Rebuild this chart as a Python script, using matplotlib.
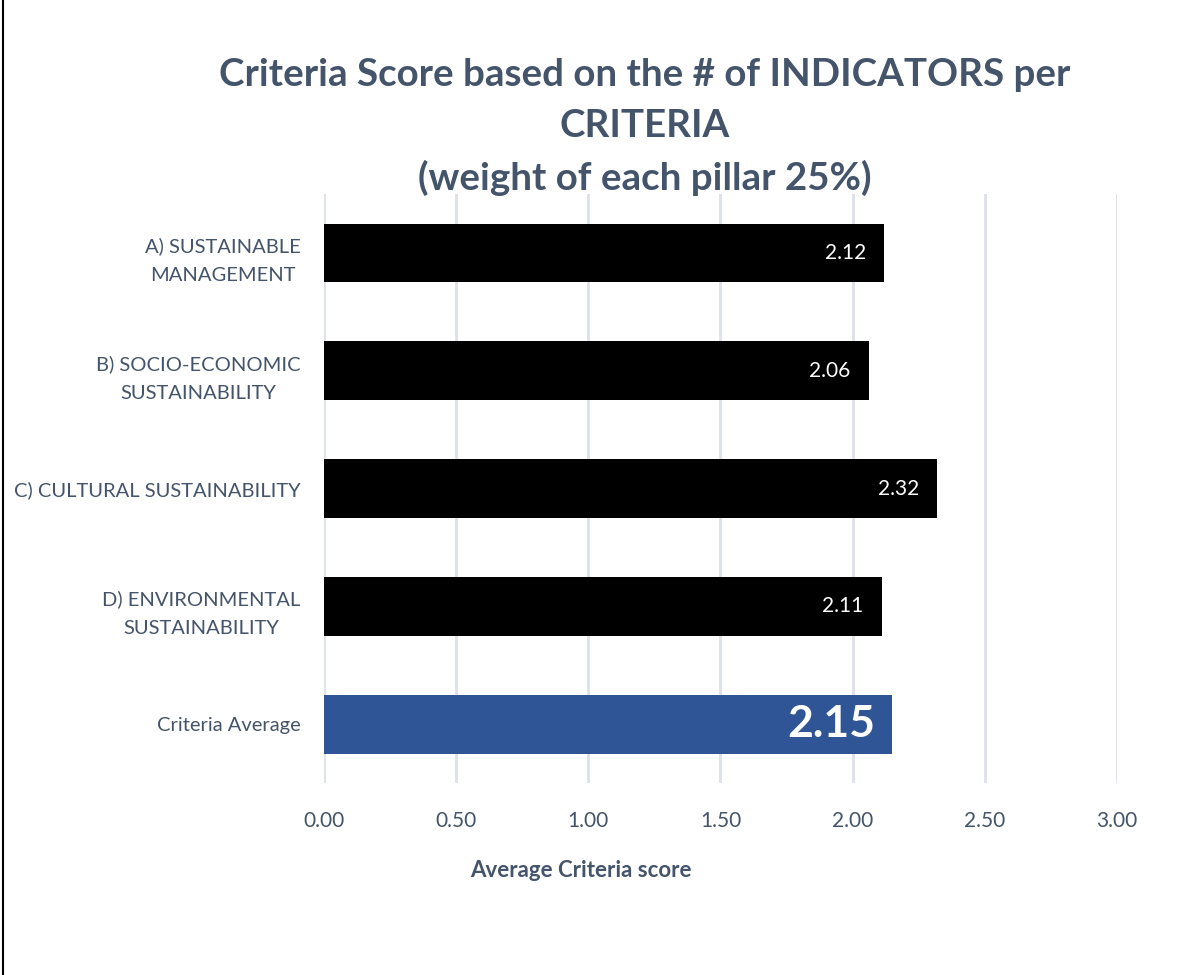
import matplotlib.pyplot as plt
from matplotlib.lines import Line2D

# Data
categories = ['A) SUSTAINABLE\nMANAGEMENT', 'B) SOCIO-ECONOMIC\nSUSTAINABILITY',
              'C) CULTURAL SUSTAINABILITY', 'D) ENVIRONMENTAL\nSUSTAINABILITY',
              'Criteria Average']
scores = [2.12, 2.06, 2.32, 2.11, 2.15]
bar_colors = ['#000000', '#000000', '#000000', '#000000', '#2F5597']
xticks = [0.0, 0.5, 1.0, 1.5, 2.0, 2.5, 3.0]

text_color = '#44546A'
plt.rcParams['font.family'] = ['Lato', 'DejaVu Sans']

fig = plt.figure(figsize=(12.03, 9.75), dpi=100)
ax = fig.add_axes([0.2693, 0.1969, 0.6592, 0.604])

ypos = list(range(len(categories)))
ax.barh(ypos, scores, height=0.5, color=bar_colors, zorder=3)
ax.set_ylim(len(categories) - 0.5, -0.5)
ax.set_xlim(0, 3.0)

# value labels inside the bar ends
for i, v in enumerate(scores):
    if i == len(scores) - 1:
        ax.text(v - 0.065, i, f'{v:.2f}', ha='right', va='center', color='white',
                fontsize=32, fontweight='bold', zorder=4)
    else:
        ax.text(v - 0.068, i, f'{v:.2f}', ha='right', va='center', color='white',
                fontsize=15, zorder=4)

ax.set_xticks(xticks)
ax.set_xticklabels([f'{t:.2f}' for t in xticks])
ax.set_yticks(ypos)
ax.set_yticklabels(categories, ha='right')
for lbl in ax.get_yticklabels():
    lbl.set_multialignment('center')
    lbl.set_linespacing(1.85)
ax.tick_params(axis='y', length=0, pad=17, labelsize=14.5, labelcolor=text_color)
ax.tick_params(axis='x', length=0, pad=20, labelsize=15, labelcolor=text_color)
ax.grid(axis='x', color='#DDE1E8', linewidth=2, zorder=0)
for s in ax.spines.values():
    s.set_visible(False)

ax.set_xlabel('Average Criteria score', fontsize=16, fontweight='bold',
              color=text_color)
ax.xaxis.set_label_coords(0.324, -0.13)

fig.text(0.536, 0.94, 'Criteria Score based on the # of INDICATORS per\nCRITERIA\n(weight of each pillar 25%)',
         ha='center', va='top', fontsize=27.7, fontweight='bold', color=text_color,
         linespacing=1.58)

# left frame line
fig.add_artist(Line2D([0.0028, 0.0028], [0, 1], transform=fig.transFigure,
                      color='black', linewidth=1.5))

fig.savefig('out.png', dpi=100, facecolor='white')
